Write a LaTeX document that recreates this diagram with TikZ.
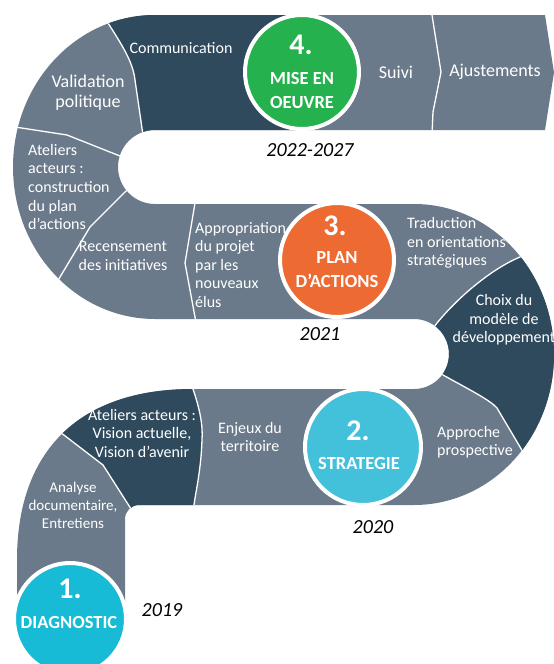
\documentclass[tikz,border=0pt]{standalone}
\usepackage{fontspec}
\setmainfont{Carlito}

\definecolor{slate}{HTML}{6B7A8A}
\definecolor{darkslate}{HTML}{2F4A5C}
\definecolor{greenstage}{HTML}{25B14E}
\definecolor{orangestage}{HTML}{EE6A33}
\definecolor{cyanstage}{HTML}{17BBD6}
\definecolor{skystage}{HTML}{44C1DA}

% outline of the winding road
\newcommand{\roadoutline}{(545,15) -- (554,72.5) -- (545,130) -- (155,130)
  arc[start angle=270, end angle=90, radius=37] -- (414,204)
  arc[start angle=-90, end angle=90, x radius=140, y radius=150.5] -- (139,505)
  arc[start angle=270, end angle=180, radius=14] -- (125,625) -- (17,625) -- (17,560)
  .. controls (17,450) and (80,389) .. (193,389) -- (414,389)
  arc[start angle=90, end angle=-90, radius=35] -- (155,319)
  arc[start angle=90, end angle=270, x radius=142, y radius=152] -- cycle}

\begin{document}
\begin{tikzpicture}[
    x=1pt, y=-1pt,
    road/.style={fill=slate},
    dark/.style={fill=darkslate},
    divider/.style={draw=white, line width=1.3pt},
    stage/.style={circle, draw=white, line width=4pt, inner sep=0pt, outer sep=0pt, minimum size=#1},
    segtext/.style={text=white, inner sep=0pt, font=\fontsize{16}{18.5}\selectfont},
    bigtext/.style={text=white, inner sep=0pt, font=\fontsize{18}{20}\selectfont},
    num/.style={text=white, inner sep=0pt, font=\bfseries\fontsize{30}{30}\selectfont},
    stagename/.style={text=white, inner sep=0pt, align=center, font=\bfseries\fontsize{18.5}{24}\selectfont},
    year/.style={inner sep=0pt, font=\itshape\fontsize{20}{24}\selectfont}
]
\useasboundingbox (0,0) rectangle (554,664);

% Road
\fill[road] \roadoutline;

\begin{scope}
\clip \roadoutline;
% dark segments
\fill[dark] (100,5) -- (108,23) .. controls (122,45) and (133,62) .. (135,80) -- (143,135) -- (302,135) -- (302,5) -- cycle;
\fill[dark] (545,240) -- (525,255) .. controls (495,266) and (460,295) .. (437,323) -- (425,340) -- (430,365) -- (443,375)
  .. controls (470,390) and (490,400) .. (497,408) -- (523,452) -- (535,470) -- (600,470) -- (600,240) -- cycle;
\fill[dark] (40,415) -- (60,432) -- (103,465) -- (133,512) -- (140,530) -- (196,530) -- (194,505)
  .. controls (196,490) and (201,470) .. (202,440) .. controls (203,425) and (200,410) .. (193,389) -- (192,370) -- (30,370) -- cycle;

% white dividers
\draw[divider] (100,5) -- (108,23) .. controls (122,45) and (133,62) .. (135,80) -- (143,135);
\draw[divider] (0,126) -- (15,127) -- (67,135) -- (125,158);
\draw[divider] (132,186) -- (125,192) -- (90,227) -- (60,277) -- (50,295);
\draw[divider] (196,195) -- (195,203) -- (185,263) -- (195,317) -- (196,325);
\draw[divider] (431,5) -- (432,15) -- (441,72) -- (433,112) -- (432,135);
\draw[divider] (545,240) -- (525,255) .. controls (495,266) and (460,295) .. (437,323) -- (425,340);
\draw[divider] (430,365) -- (443,375) .. controls (470,390) and (490,400) .. (497,408) -- (523,452) -- (535,470);
\draw[divider] (40,415) -- (60,432) -- (103,465) -- (133,512) -- (140,530);
\draw[divider] (192,370) -- (193,389) .. controls (200,410) and (203,425) .. (202,440) .. controls (201,470) and (196,490) .. (194,505) -- (196,530);
\end{scope}

% Stage circles
\node[stage=114pt, fill=greenstage] (mise) at (302,72) {};
\node[stage=114pt, fill=orangestage] (plan) at (337,260) {};
\node[stage=116pt, fill=skystage] (strategie) at (363,447) {};
\node[stage=112pt, fill=cyanstage] (diagnostic) at (70,619) {};

\node[num] (num4) at (301,45) {4.};
\node[stagename] (name4) at (302,90) {MISE EN\\OEUVRE};
\node[num] (num3) at (335,226) {3.};
\node[stagename] (name3) at (337,270) {PLAN\\D’ACTIONS};
\node[num] (num2) at (358,431) {2.};
\node[stagename] (name2) at (359,463) {STRATEGIE};
\node[num] (num1) at (70,589) {1.};
\node[stagename] (name1) at (69,622) {DIAGNOSTIC};

% Years
\node[year] (y4) at (310,150) {2022-2027};
\node[year] (y3) at (320,334) {2021};
\node[year] (y2) at (373,527) {2020};
\node[year] (y1) at (162,610) {2019};

% Segment texts
\node[segtext] (communication) at (181,48) {Communication};
\node[bigtext, align=center] (validation) at (88,93) {Validation\\politique};
\node[segtext, align=left, anchor=west] (ateliersplan) at (28,187) {Ateliers\\acteurs :\\construction\\du plan\\d’actions};
\node[segtext, align=center] (recensement) at (123,256) {Recensement\\des initiatives};
\node[segtext, align=left, anchor=west] (appropriation) at (195,265) {Appropriation\\du projet\\par les\\nouveaux\\élus};
\node[segtext, align=left, anchor=west] (traduction) at (407,243) {Traduction\\en orientations\\stratégiques};
\node[segtext, align=center] (choix) at (504,320) {Choix du\\modèle de\\développement};
\node[segtext, align=left, anchor=west] (approche) at (437,442) {Approche\\prospective};
\node[segtext, align=center] (enjeux) at (250,437) {Enjeux du\\territoire};
\node[segtext, align=center] (ateliersvision) at (142,433) {Ateliers acteurs :\\Vision actuelle,\\Vision d’avenir};
\node[segtext, align=center, font=\fontsize{15}{18}\selectfont] (analyse) at (73,505) {Analyse\\documentaire,\\Entretiens};
\node[bigtext] (suivi) at (396,72) {Suivi};
\node[bigtext] (ajustements) at (495,72) {Ajustements};

\end{tikzpicture}
\end{document}
